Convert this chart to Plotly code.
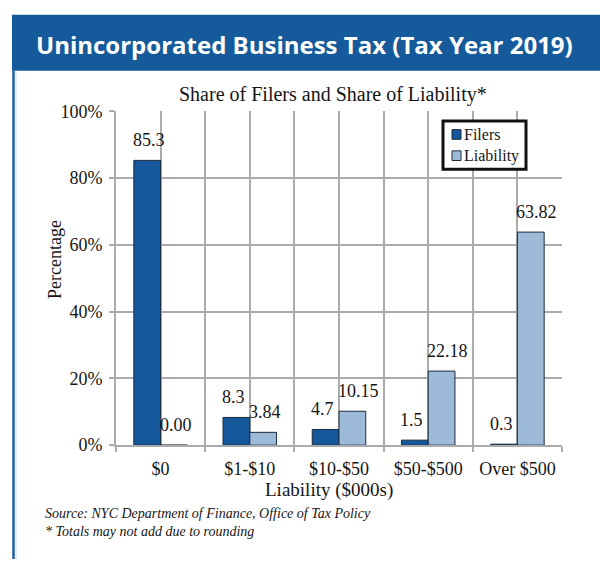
import plotly.graph_objects as go

# Liability brackets ($000s) and each group's share of filers / liability (%)
categories = ["$0", "$1-$10", "$10-$50", "$50-$500", "Over $500"]
filers = [85.3, 8.3, 4.7, 1.5, 0.3]
liability = [0.00, 3.84, 10.15, 22.18, 63.82]
filers_labels = ["85.3", "8.3", "4.7", "1.5", "0.3"]
liability_labels = ["0.00", "3.84", "10.15", "22.18", "63.82"]
y_ticks = [0, 20, 40, 60, 80, 100]
y_tick_text = ["0%", "20%", "40%", "60%", "80%", "100%"]

W, H = 600, 569
DARK_BLUE = "#14579a"
LIGHT_BLUE = "#9dbad8"
GRID = "#ababab"
SERIF = "Liberation Serif, serif"
INK = "#151515"

# plot area in pixels
PX_LEFT, PX_RIGHT, PX_TOP, PX_BOTTOM = 116, 562, 105, 451
BARGAP = 0.4
cat_px = (PX_RIGHT - PX_LEFT) / len(categories)
bar_px = cat_px * (1 - BARGAP) / 2

series = [
    ("Filers", filers, filers_labels, DARK_BLUE),
    ("Liability", liability, liability_labels, LIGHT_BLUE),
]

fig = go.Figure()
for name, vals, labels, color in series:
    fig.add_trace(go.Bar(
        x=categories, y=vals, name=name,
        marker=dict(color=color, line=dict(color="#1b2b3b", width=1)),
        showlegend=False,
    ))

# invisible trace carrying the mid-category gridlines
fig.add_trace(go.Scatter(
    x=categories, y=[None] * len(categories), xaxis="x2", yaxis="y",
    showlegend=False, hoverinfo="skip", mode="markers",
))

# value labels, left-aligned with each bar's left edge
annotations = []
for i, (name, vals, labels, color) in enumerate(series):
    left_edge = -bar_px + i * bar_px
    for cat, v, lab in zip(categories, vals, labels):
        annotations.append(dict(
            x=cat, y=v, xref="x", yref="y", text=lab, showarrow=False,
            xanchor="left", yanchor="bottom", xshift=left_edge - 3, yshift=8,
            font=dict(family=SERIF, size=18, color=INK),
        ))

# legend box
LEG_X0, LEG_X1, LEG_Y0, LEG_Y1 = 443, 526, 115, 165
shapes = [
    # header banner
    dict(type="rect", xref="paper", yref="paper",
         x0=12 / W, x1=1.0, y0=(H - 63) / H, y1=(H - 5) / H,
         fillcolor="#155a9a", line=dict(width=0), layer="below"),
    # left border of the panel
    dict(type="line", xref="paper", yref="paper",
         x0=13.5 / W, x1=13.5 / W, y0=0, y1=(H - 63) / H,
         line=dict(color="#1f5fa0", width=2.5)),
    dict(type="line", xref="paper", yref="paper",
         x0=16 / W, x1=16 / W, y0=0, y1=(H - 63) / H,
         line=dict(color="#c9daec", width=1)),
    dict(type="rect", xref="paper", yref="paper",
         x0=LEG_X0 / W, x1=LEG_X1 / W, y0=(H - LEG_Y1) / H, y1=(H - LEG_Y0) / H,
         fillcolor="white", line=dict(color="#111", width=3)),
]
for j, (name, vals, labels, color) in enumerate(series):
    cy = 129 + j * 22
    shapes.append(dict(
        type="rect", xref="paper", yref="paper",
        x0=452 / W, x1=461 / W, y0=(H - cy - 5) / H, y1=(H - cy + 5) / H,
        fillcolor=color, line=dict(color="#1b2b3b", width=1),
    ))
    annotations.append(dict(
        text=name, xref="paper", yref="paper", x=462 / W, y=(H - cy) / H,
        xanchor="left", yanchor="middle", showarrow=False,
        font=dict(family=SERIF, size=16, color=INK),
    ))

annotations += [
    dict(text="<b>Unincorporated Business Tax (Tax Year 2019)</b>",
         xref="paper", yref="paper", x=304 / W, y=(H - 36) / H,
         xanchor="center", yanchor="middle", showarrow=False,
         font=dict(family="Open Sans", size=24, color="white")),
    dict(text="Share of Filers and Share of Liability*",
         xref="paper", yref="paper", x=333 / W, y=(H - 88) / H,
         xanchor="center", yanchor="middle", showarrow=False,
         font=dict(family=SERIF, size=20, color=INK)),
    dict(text="Percentage", textangle=-90,
         xref="paper", yref="paper", x=55 / W, y=(H - 258) / H,
         xanchor="center", yanchor="middle", showarrow=False,
         font=dict(family=SERIF, size=18, color=INK)),
    dict(text="Liability ($000s)",
         xref="paper", yref="paper", x=329 / W, y=(H - 498) / H,
         xanchor="center", yanchor="middle", showarrow=False,
         font=dict(family=SERIF, size=19, color=INK)),
    dict(text="<i>Source: NYC Department of Finance, Office of Tax Policy</i>",
         xref="paper", yref="paper", x=43 / W, y=(H - 522) / H,
         xanchor="left", yanchor="middle", showarrow=False,
         font=dict(family=SERIF, size=14, color=INK)),
    dict(text="<i>* Totals may not add due to rounding</i>",
         xref="paper", yref="paper", x=43 / W, y=(H - 541) / H,
         xanchor="left", yanchor="middle", showarrow=False,
         font=dict(family=SERIF, size=14, color=INK)),
]

x_dom = [PX_LEFT / W, PX_RIGHT / W]
y_dom = [(H - PX_BOTTOM) / H, (H - PX_TOP) / H]

fig.update_layout(
    width=W, height=H,
    margin=dict(l=0, r=0, t=0, b=0),
    paper_bgcolor="white", plot_bgcolor="white",
    barmode="group", bargap=BARGAP, bargroupgap=0.0,
    showlegend=False,
    xaxis=dict(
        domain=x_dom, type="category", categoryorder="array", categoryarray=categories,
        range=[-0.5, len(categories) - 0.5],
        tickson="boundaries", ticks="outside", ticklen=5, tickcolor=GRID, tickwidth=2,
        showgrid=True, gridcolor=GRID, gridwidth=2,
        showline=True, linecolor=GRID, linewidth=2,
        ticklabelstandoff=6,
        tickfont=dict(family=SERIF, size=18, color=INK),
    ),
    xaxis2=dict(
        domain=x_dom, type="category", categoryorder="array", categoryarray=categories,
        range=[-0.5, len(categories) - 0.5], overlaying="x", anchor="y",
        showgrid=True, gridcolor=GRID, gridwidth=2,
        showticklabels=False, ticks="", showline=False, layer="below traces",
    ),
    yaxis=dict(
        domain=y_dom, range=[0, 100], tickvals=y_ticks, ticktext=y_tick_text,
        ticks="outside", ticklen=5, tickcolor=GRID, tickwidth=2,
        showgrid=True, gridcolor=GRID, gridwidth=2,
        showline=True, linecolor=GRID, linewidth=2, zeroline=False,
        ticklabelstandoff=3,
        tickfont=dict(family=SERIF, size=18, color=INK),
    ),
    shapes=shapes,
    annotations=annotations,
)

fig.write_html("out.html")
